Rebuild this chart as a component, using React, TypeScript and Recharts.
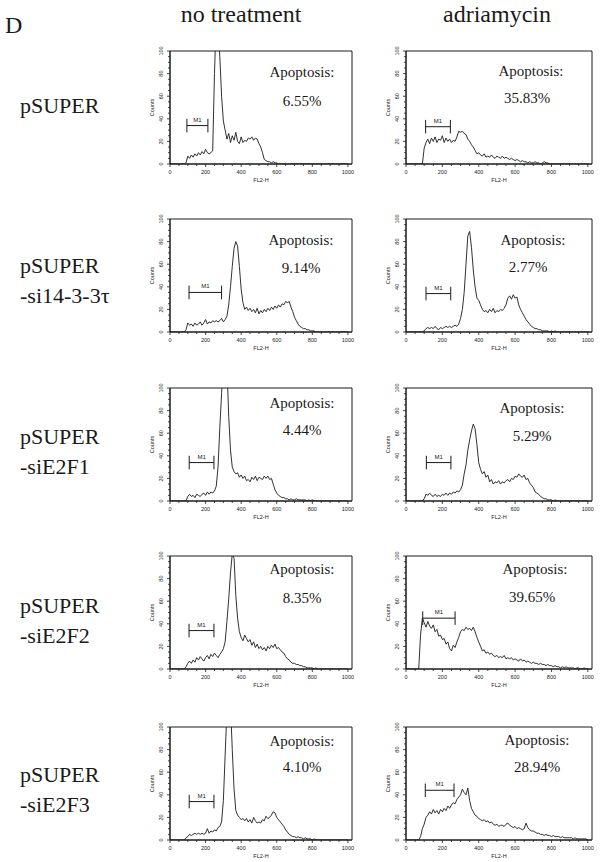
import React from "react";
import { LineChart, Line, XAxis, YAxis, ReferenceArea, ReferenceLine } from "recharts";

// FL2-H channel bins (every 10 channels)
const channels = [
  0, 10, 20, 30, 40, 50, 60, 70, 80, 90,
  100, 110, 120, 130, 140, 150, 160, 170, 180, 190,
  200, 210, 220, 230, 240, 250, 260, 270, 280, 290,
  300, 310, 320, 330, 340, 350, 360, 370, 380, 390,
  400, 410, 420, 430, 440, 450, 460, 470, 480, 490,
  500, 510, 520, 530, 540, 550, 560, 570, 580, 590,
  600, 610, 620, 630, 640, 650, 660, 670, 680, 690,
  700, 710, 720, 730, 740, 750, 760, 770, 780, 790,
  800, 810, 820, 830, 840, 850, 860, 870, 880, 890,
  900, 910, 920, 930, 940, 950, 960, 970, 980, 990,
  1000,
];

const pSuperNo = [
  0, 0, 0, 0, 0, 0, 0, 0, 0, 1,
  7, 5, 8, 6, 9, 7, 10, 8, 11, 9,
  13, 10, 9, 10, 12, 80, 130, 120, 95, 60,
  38, 30, 22, 27, 19, 25, 21, 28, 20, 18,
  24, 19, 21, 20, 23, 22, 24, 21, 23, 22,
  18, 15, 10, 4, 3, 2, 2, 1, 2, 1,
  1, 0, 0, 0, 0, 0, 0, 0, 0, 0,
  0, 0, 0, 0, 0, 0, 0, 0, 0, 0,
  0, 0, 0, 0, 0, 0, 0, 0, 0, 0,
  0, 0, 0, 0, 0, 0, 0, 0, 0, 0,
  0,
];
const pSuperAdr = [
  0, 0, 0, 0, 0, 0, 0, 0, 0, 0,
  14, 19, 22, 18, 23, 20, 24, 19, 22, 21,
  25, 19, 23, 20, 22, 19, 21, 20, 24, 29,
  28, 29, 27, 26, 22, 20, 17, 15, 12, 9,
  10, 8, 7, 9, 6, 7, 6, 8, 6, 5,
  7, 6, 5, 7, 5, 6, 5, 4, 5, 4,
  3, 4, 3, 2, 3, 2, 2, 1, 2, 1,
  1, 2, 1, 1, 0, 1, 2, 1, 1, 0,
  0, 0, 0, 0, 0, 0, 0, 0, 0, 0,
  0, 0, 0, 0, 0, 0, 0, 0, 0, 0,
  0,
];
const si1433No = [
  0, 0, 0, 0, 0, 0, 0, 0, 0, 2,
  8, 6, 7, 5, 8, 6, 7, 9, 6, 8,
  11, 7, 9, 8, 10, 9, 10, 9, 10, 12,
  9, 11, 14, 24, 40, 58, 74, 80, 76, 58,
  38, 26, 20, 22, 19, 21, 18, 20, 17, 21,
  16, 19, 17, 20, 18, 21, 19, 22, 20, 23,
  21, 24, 22, 25, 24, 27, 26, 27, 22, 18,
  13, 10, 7, 5, 4, 3, 3, 2, 2, 1,
  1, 1, 0, 0, 0, 0, 0, 0, 0, 0,
  0, 0, 0, 0, 0, 0, 0, 0, 0, 0,
  0,
];
const si1433Adr = [
  0, 0, 0, 0, 0, 0, 0, 0, 0, 0,
  1, 3, 4, 3, 4, 3, 5, 3, 2, 4,
  3, 4, 5, 4, 5, 4, 5, 6, 5, 7,
  12, 20, 35, 60, 85, 89, 75, 55, 40, 30,
  28, 24, 20, 18, 19, 17, 20, 18, 21, 17,
  19, 18, 20, 19, 21, 24, 30, 32, 29, 33,
  30, 31, 24, 20, 17, 14, 11, 9, 7, 5,
  4, 3, 3, 2, 2, 1, 1, 1, 1, 0,
  1, 0, 1, 0, 0, 0, 0, 0, 0, 0,
  0, 0, 0, 0, 0, 0, 0, 0, 0, 0,
  0,
];
const e2f1No = [
  0, 0, 0, 0, 0, 0, 0, 0, 0, 0,
  4, 6, 4, 5, 3, 6, 5, 4, 6, 7,
  5, 8, 6, 8, 7, 9, 13, 30, 65, 95,
  130, 130, 120, 75, 45, 30, 26, 24, 25, 21,
  23, 20, 22, 18, 19, 17, 21, 19, 22, 18,
  21, 20, 19, 22, 20, 22, 19, 20, 15, 10,
  7, 5, 4, 3, 3, 2, 2, 1, 2, 1,
  1, 2, 1, 1, 1, 1, 1, 0, 1, 0,
  1, 0, 0, 0, 0, 0, 0, 0, 0, 0,
  0, 0, 0, 0, 0, 0, 0, 0, 0, 0,
  0,
];
const e2f1Adr = [
  0, 0, 0, 0, 0, 0, 0, 0, 0, 0,
  2, 6, 5, 7, 5, 4, 6, 4, 5, 4,
  6, 5, 7, 5, 7, 6, 8, 7, 9, 8,
  10, 14, 24, 32, 45, 54, 62, 68, 64, 50,
  34, 28, 24, 26, 21, 23, 17, 19, 15, 17,
  16, 18, 15, 17, 16, 18, 19, 17, 20, 19,
  22, 21, 24, 22, 21, 23, 19, 20, 16, 14,
  12, 8, 7, 6, 4, 3, 2, 2, 1, 1,
  1, 0, 1, 0, 0, 0, 0, 0, 0, 0,
  0, 0, 0, 0, 0, 0, 0, 0, 0, 0,
  0,
];
const e2f2No = [
  0, 0, 0, 0, 0, 0, 0, 0, 0, 2,
  5, 7, 5, 8, 6, 10, 8, 11, 9, 7,
  10, 12, 9, 13, 11, 14, 12, 10, 13, 15,
  18, 24, 42, 62, 85, 102, 98, 65, 45, 33,
  28, 25, 30, 27, 24, 26, 21, 24, 19, 22,
  18, 20, 17, 19, 16, 20, 18, 21, 19, 22,
  18, 19, 17, 15, 14, 11, 9, 8, 6, 5,
  5, 4, 4, 3, 3, 2, 2, 1, 1, 1,
  1, 0, 1, 0, 0, 0, 0, 0, 0, 0,
  0, 0, 0, 0, 0, 0, 0, 0, 0, 0,
  0,
];
const e2f2Adr = [
  0, 0, 0, 0, 0, 0, 0, 0, 30, 45,
  41, 37, 42, 38, 36, 39, 33, 35, 29, 30,
  26, 27, 22, 24, 18, 16, 21, 19, 24, 28,
  33, 35, 34, 37, 35, 36, 34, 37, 33, 28,
  24, 20, 16, 17, 14, 15, 13, 14, 12, 11,
  12, 10, 11, 10, 12, 9, 10, 9, 10, 8,
  9, 8, 7, 9, 7, 8, 6, 7, 6, 5,
  6, 5, 5, 4, 5, 4, 4, 3, 4, 3,
  3, 2, 3, 2, 2, 1, 2, 1, 2, 1,
  1, 1, 1, 0, 1, 1, 0, 0, 1, 0,
  0,
];
const e2f3No = [
  0, 0, 0, 0, 0, 0, 0, 0, 0, 2,
  3, 5, 4, 5, 6, 5, 6, 5, 6, 5,
  6, 10, 6, 8, 7, 9, 8, 11, 12, 16,
  35, 75, 115, 130, 120, 80, 45, 26, 22, 20,
  18, 19, 17, 19, 16, 18, 15, 20, 17, 15,
  16, 15, 18, 17, 21, 19, 20, 22, 25, 24,
  20, 18, 16, 14, 12, 9, 7, 5, 4, 3,
  3, 2, 3, 2, 2, 1, 2, 1, 1, 1,
  0, 1, 0, 0, 0, 0, 0, 0, 0, 0,
  0, 0, 0, 0, 0, 0, 0, 0, 0, 0,
  0,
];
const e2f3Adr = [
  0, 0, 0, 0, 0, 0, 0, 0, 3, 10,
  14, 20, 22, 25, 23, 27, 24, 26, 23, 27,
  25, 28, 26, 30, 28, 31, 33, 32, 36, 38,
  40, 45, 42, 40, 46, 35, 28, 25, 22, 21,
  19, 18, 17, 18, 16, 17, 15, 16, 14, 13,
  14, 12, 13, 13, 12, 14, 15, 13, 12, 11,
  12, 10, 11, 10, 9, 10, 15, 11, 9, 8,
  8, 7, 6, 6, 5, 5, 4, 5, 4, 4,
  3, 4, 3, 3, 3, 2, 3, 2, 2, 2,
  2, 2, 1, 2, 1, 1, 1, 1, 1, 1,
  0,
];

const rowLabels = [
  ["pSUPER"],
  ["pSUPER", "-si14-3-3τ"],
  ["pSUPER", "-siE2F1"],
  ["pSUPER", "-siE2F2"],
  ["pSUPER", "-siE2F3"],
];
const noTreatment = [pSuperNo, si1433No, e2f1No, e2f2No, e2f3No];
const adriamycin = [pSuperAdr, si1433Adr, e2f1Adr, e2f2Adr, e2f3Adr];
const apoptosisNo = ["6.55%", "9.14%", "4.44%", "8.35%", "4.10%"];
const apoptosisAdr = ["35.83%", "2.77%", "5.29%", "39.65%", "28.94%"];
// M1 gate: [start, end, height]
const gateNo = [[95, 213, 34], [107, 290, 35], [108, 247, 34], [107, 247, 34], [108, 247, 34]];
const gateAdr = [[108, 244, 33], [110, 246, 34], [112, 247, 34], [92, 270, 45], [106, 264, 44]];

const xTicks = [0, 50, 100, 150, 200, 250, 300, 350, 400, 450, 500, 550, 600, 650, 700, 750, 800, 850, 900, 950, 1000];
const xMajor = [0, 200, 400, 600, 800, 1000];
const yTicks = [0, 5, 10, 15, 20, 25, 30, 35, 40, 45, 50, 55, 60, 65, 70, 75, 80, 85, 90, 95, 100];
const yMajor = [0, 20, 40, 60, 80, 100];

// layout (page px)
const rowTops = [51, 219, 388, 556, 727];
const labelBaselines = [[113], [273, 303], [444, 474], [613, 643], [782, 812]];
const textNo = [
  { ax: 302, px: 302, a: 26, p: 55 },
  { ax: 301, px: 301, a: 26, p: 54 },
  { ax: 302, px: 302, a: 20, p: 47 },
  { ax: 302, px: 302, a: 18, p: 47 },
  { ax: 302, px: 302, a: 19, p: 45 },
];
const textAdr = [
  { ax: 531, px: 527, a: 25, p: 52 },
  { ax: 533, px: 528, a: 26, p: 53 },
  { ax: 532, px: 532, a: 25, p: 53 },
  { ax: 535, px: 532, a: 18, p: 46 },
  { ax: 537, px: 537, a: 18, p: 45 },
];

const INK = "#1a1a1a";
const SANS = "'Liberation Sans', Arial, sans-serif";
const SERIF = "'Liberation Serif', 'Times New Roman', serif";

const XTick = ({ x, y, payload }: any) => {
  const major = xMajor.includes(payload.value);
  return (
    <g>
      <line x1={x} x2={x} y1={y} y2={y + (major ? 3 : 2)} stroke={INK} strokeWidth={0.8} />
      {major && (
        <text x={x} y={y + 10} textAnchor="middle" fontSize={5.5} fontFamily={SANS} fill={INK}>
          {payload.value}
        </text>
      )}
    </g>
  );
};

const YTick = ({ x, y, payload }: any) => {
  const major = yMajor.includes(payload.value);
  return (
    <g>
      <line x1={x - (major ? 3 : 2)} x2={x} y1={y} y2={y} stroke={INK} strokeWidth={0.8} />
      {major && (
        <text
          x={x - 7}
          y={y}
          transform={`rotate(-90 ${x - 7} ${y})`}
          textAnchor="middle"
          fontSize={5.5}
          fontFamily={SANS}
          fill={INK}
        >
          {payload.value}
        </text>
      )}
    </g>
  );
};

const FlLabel = ({ viewBox }: any) => (
  <text x={viewBox.x + viewBox.width / 2} y={viewBox.y + 18} textAnchor="middle" fontSize={5.5} fontFamily={SANS} fill={INK}>
    FL2-H
  </text>
);

const CountsLabel = ({ viewBox }: any) => {
  const bx = viewBox.x + viewBox.width - 16;
  const cy = viewBox.y + viewBox.height / 2;
  return (
    <text x={bx} y={cy} transform={`rotate(-90 ${bx} ${cy})`} textAnchor="middle" fontSize={5.5} fontFamily={SANS} fill={INK}>
      Counts
    </text>
  );
};

type PanelProps = { series: number[]; gate: number[]; left: number; top: number; marginRight: number };

function Histogram({ series, gate, left, top, marginRight }: PanelProps) {
  const data = channels.map((ch, i) => ({ ch, count: series[i] }));
  const [g1, g2, gy] = gate;
  return (
    <div style={{ position: "absolute", left, top }}>
      <LineChart width={240} height={150} data={data} margin={{ top: 10, right: marginRight, bottom: 7, left: 10 }}>
        <XAxis
          dataKey="ch"
          type="number"
          domain={[0, 1023]}
          ticks={xTicks}
          interval={0}
          tickSize={0}
          tickMargin={0}
          tick={XTick}
          height={20}
          stroke={INK}
          label={FlLabel}
        />
        <YAxis
          type="number"
          domain={[0, 100]}
          allowDataOverflow
          ticks={yTicks}
          interval={0}
          tickSize={0}
          tickMargin={0}
          tick={YTick}
          width={30}
          stroke={INK}
          label={CountsLabel}
        />
        <ReferenceArea x1={0} x2={1023} y1={0} y2={100} fill="none" stroke={INK} strokeWidth={1} />
        <Line type="linear" dataKey="count" stroke={INK} strokeWidth={0.9} dot={false} isAnimationActive={false} />
        <ReferenceLine
          segment={[{ x: g1, y: gy }, { x: g2, y: gy }]}
          stroke={INK}
          label={{ value: "M1", position: "top", fontSize: 6, fill: INK, fontFamily: SANS, offset: 4 }}
        />
        <ReferenceLine segment={[{ x: g1, y: gy - 6 }, { x: g1, y: gy + 6 }]} stroke={INK} />
        <ReferenceLine segment={[{ x: g2, y: gy - 6 }, { x: g2, y: gy + 6 }]} stroke={INK} />
      </LineChart>
    </div>
  );
}

export default function App() {
  return (
    <div style={{ position: "absolute", left: 0, top: 0, width: 602, height: 862, background: "#fff" }}>
      {rowTops.map((rt, i) => (
        <React.Fragment key={i}>
          <Histogram series={noTreatment[i]} gate={gateNo[i]} left={130} top={rt - 10} marginRight={18} />
          <Histogram series={adriamycin[i]} gate={gateAdr[i]} left={366} top={rt - 10} marginRight={14} />
        </React.Fragment>
      ))}
      <svg width={602} height={862} style={{ position: "absolute", left: 0, top: 0, pointerEvents: "none" }}>
        <g fontFamily={SERIF} fill={INK}>
          <text x={5} y={33} fontSize={24}>D</text>
          <text x={241} y={22} fontSize={24} textAnchor="middle">no treatment</text>
          <text x={497} y={22} fontSize={24} textAnchor="middle">adriamycin</text>
          {rowLabels.map((lines, i) =>
            lines.map((t, j) => (
              <text key={`${i}-${j}`} x={20} y={labelBaselines[i][j]} fontSize={22}>
                {t}
              </text>
            ))
          )}
          {rowTops.map((rt, i) => (
            <React.Fragment key={`t${i}`}>
              <text x={textNo[i].ax} y={rt + textNo[i].a} fontSize={15} textAnchor="middle">Apoptosis:</text>
              <text x={textNo[i].px} y={rt + textNo[i].p} fontSize={15} textAnchor="middle">{apoptosisNo[i]}</text>
              <text x={textAdr[i].ax} y={rt + textAdr[i].a} fontSize={15} textAnchor="middle">Apoptosis:</text>
              <text x={textAdr[i].px} y={rt + textAdr[i].p} fontSize={15} textAnchor="middle">{apoptosisAdr[i]}</text>
            </React.Fragment>
          ))}
        </g>
      </svg>
    </div>
  );
}
